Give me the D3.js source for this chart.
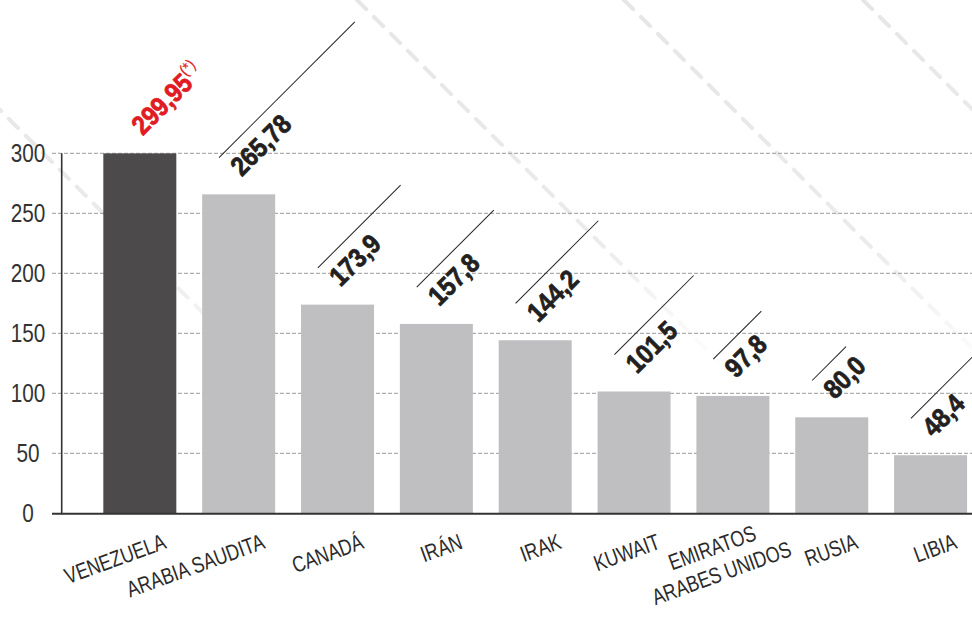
<!DOCTYPE html>
<html>
<head>
<meta charset="utf-8">
<script src="https://cdn.jsdelivr.net/npm/d3@7"></script>
<style>
  html, body { margin: 0; padding: 0; background: #fff; }
  svg { display: block; }
</style>
</head>
<body>
<div id="chart"></div>
<script>
// ---- data ----
const categories = ["VENEZUELA", "ARABIA SAUDITA", "CANADÁ", "IRÁN", "IRAK", "KUWAIT", "EMIRATOS\nARABES UNIDOS", "RUSIA", "LIBIA"];
const values = [299.95, 265.78, 173.9, 157.8, 144.2, 101.5, 97.8, 80.0, 48.4];
const valueLabels = ["299,95", "265,78", "173,9", "157,8", "144,2", "101,5", "97,8", "80,0", "48,4"];
const valueNotes = ["(*)", "", "", "", "", "", "", "", ""];
const highlighted = ["VENEZUELA"];
const yTicks = [0, 50, 100, 150, 200, 250, 300];
// decorative leader-line lengths beside each value label
const leaderLengths = [0, 192, 117, 109, 117, 112, 68, 48, 110];

// ---- layout ----
const W = 972, H = 617;
const FONT = "'Liberation Sans', Arial, sans-serif";
const svg = d3.select("#chart").append("svg").attr("width", W).attr("height", H);

const x = d3.scaleBand().domain(categories).range([62, 1008.4]).paddingInner(0.2615).paddingOuter(0.418);
const y = d3.scaleLinear().domain([0, 300]).range([513.3, 153.3]);

// background faint diagonal dashed lines (decoration)
const defs = svg.append("defs");
const decoStarts = [-110, 357, 624, 863];
const decoLens = [400, 370, 380, 260];
decoStarts.forEach((sx, i) => {
  const x1 = sx, y1 = 0, x2 = sx + decoLens[i], y2 = decoLens[i];
  const gid = "fade" + i;
  const g = defs.append("linearGradient").attr("id", gid).attr("gradientUnits", "userSpaceOnUse")
    .attr("x1", x1).attr("y1", y1).attr("x2", x2).attr("y2", y2);
  g.append("stop").attr("offset", "0%").attr("stop-color", "#e6e6e6");
  g.append("stop").attr("offset", "65%").attr("stop-color", "#ebebeb");
  g.append("stop").attr("offset", "100%").attr("stop-color", "#ffffff");
  svg.append("line").attr("x1", x1).attr("y1", y1).attr("x2", x2).attr("y2", y2)
    .attr("stroke", `url(#${gid})`).attr("stroke-width", 4)
    .attr("stroke-dasharray", "13 11").attr("stroke-linecap", "round");
});

// gridlines
svg.append("g").selectAll("line").data(yTicks.filter(d => d > 0)).join("line")
  .attr("x1", 52).attr("x2", W).attr("y1", d => y(d)).attr("y2", d => y(d))
  .attr("stroke", "#9a9a9a").attr("stroke-width", 1).attr("stroke-dasharray", "4 2");

// y tick labels
svg.append("g").selectAll("text").data(yTicks).join("text")
  .attr("transform", d => `translate(28,${y(d)}) scale(0.83,1)`)
  .attr("dy", "0.36em")
  .attr("text-anchor", "middle")
  .attr("font-family", FONT).attr("font-size", 25).attr("fill", "#333")
  .text(d => d);

// bars
svg.append("g").selectAll("rect").data(categories).join("rect")
  .attr("x", d => x(d)).attr("width", x.bandwidth())
  .attr("y", (d, i) => y(values[i])).attr("height", (d, i) => y(0) - y(values[i]))
  .attr("fill", d => highlighted.includes(d) ? "#4c4a4b" : "#bfbfc1");

// axes lines
svg.append("line").attr("x1", 61.7).attr("x2", 61.7).attr("y1", y(300)).attr("y2", y(0) + 1)
  .attr("stroke", "#333").attr("stroke-width", 1.6);
svg.append("line").attr("x1", 52).attr("x2", W).attr("y1", y(0) + 0.5).attr("y2", y(0) + 0.5)
  .attr("stroke", "#333").attr("stroke-width", 2);

// value labels + leader lines
const vl = svg.append("g").selectAll("g").data(categories).join("g")
  .attr("transform", (d, i) => `translate(${x(d) + x.bandwidth() / 2 + 3},${y(values[i]) - 17}) rotate(-45)`);
vl.filter(d => leaderLengths[categories.indexOf(d)] > 0).append("line")
  .attr("x1", -2).attr("y1", -30).attr("x2", d => leaderLengths[categories.indexOf(d)] - 2).attr("y2", -30)
  .attr("stroke", "#222").attr("stroke-width", 1);
const vt = vl.append("text")
  .attr("transform", "scale(0.88,1)")
  .attr("font-family", FONT).attr("font-weight", "bold").attr("font-size", 27)
  .attr("fill", d => highlighted.includes(d) ? "#e01b24" : "#231f20")
  .attr("stroke", d => highlighted.includes(d) ? "#e01b24" : "#231f20")
  .attr("stroke-width", 0.8);
vt.append("tspan").text((d, i) => valueLabels[i]);
vt.append("tspan").attr("font-size", 16).attr("font-weight", "normal").attr("stroke-width", 0.2).attr("dy", -12)
  .text((d, i) => valueNotes[i]);

// x labels
svg.append("g").selectAll("text").data(categories).join("text")
  .attr("font-family", FONT).attr("font-size", 22.5).attr("fill", "#2b2b2b")
  .each(function (d) {
    const lines = d.split("\n");
    const t = d3.select(this);
    if (lines.length > 1) {
      const cx = x(d) + x.bandwidth() / 2 - 18, cy = 555;
      t.attr("text-anchor", "middle").attr("transform", `translate(${cx},${cy}) rotate(-20) scale(0.79,1)`);
      lines.forEach((ln, k) => t.append("tspan").attr("x", 0).attr("dy", k === 0 ? 0 : "1.2em").text(ln));
    } else {
      const ex = x(d) + x.bandwidth() - 9, ey = 548;
      t.attr("text-anchor", "end").attr("transform", `translate(${ex},${ey}) rotate(-20) scale(0.79,1)`).text(d);
    }
  });
</script>
</body>
</html>
